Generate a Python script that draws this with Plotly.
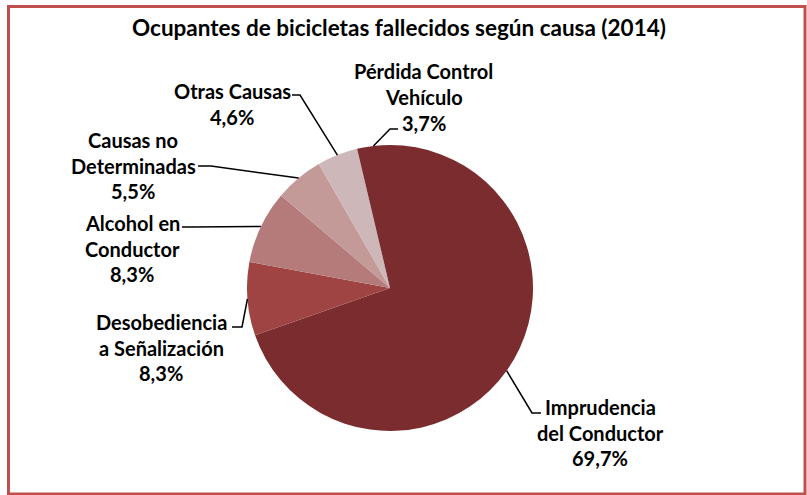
import math
import plotly.graph_objects as go

# ---- data ----
categories = ["Imprudencia<br>del Conductor", "Desobediencia<br>a Señalización",
              "Alcohol en<br>Conductor", "Causas no<br>Determinadas",
              "Otras Causas", "Pérdida Control<br>Vehículo"]
label_lines = [["Imprudencia", "del Conductor"],
               ["Desobediencia", "a Señalización"],
               ["Alcohol en", "Conductor"],
               ["Causas no", "Determinadas"],
               ["Otras Causas"],
               ["Pérdida Control", "Vehículo"]]
values = [69.7, 8.3, 8.3, 5.5, 4.6, 3.7]
pct_labels = ["69,7%", "8,3%", "8,3%", "5,5%", "4,6%", "3,7%"]
title = "Ocupantes de bicicletas fallecidos según causa (2014)"

colors = ["#7B2C2F", "#9F4442", "#B47B7A", "#C39A98", "#CDB7B8", "#7B2C2F"]

W, H = 807, 495
CX, CY, R = 390.0, 288.0, 143.0

def px(x):
    return x / W

def py(y):
    return 1 - y / H

fig = go.Figure()
fig.add_trace(go.Pie(
    labels=categories, values=values, sort=False, direction="clockwise",
    rotation=0, marker=dict(colors=colors, line=dict(width=0)),
    textinfo="none", hoverinfo="label+percent", showlegend=False,
    domain=dict(x=[px(CX - R), px(CX + R)], y=[py(CY + R), py(CY - R)]),
))

layout_info = [
    dict(cx=600, y0=407, elbow=(532, 413), end=(541, 413)),
    dict(cx=161, y0=322, elbow=(242, 327), end=(232, 327)),
    dict(cx=132, y0=223, elbow=(192, 227), end=(182, 227)),
    dict(cx=133, y0=140, elbow=(211, 166), end=(198, 166)),
    dict(cx=232, y0=91.5, elbow=(300, 95), end=(292, 95)),
    dict(cx=424, y0=71.5, elbow=(390, 129), end=(398, 129)),
]
SP = 25.7
FONT = "Lato"
FS = 20

total = sum(values)
cum = 0.0
annotations = []
shapes = []
for i, v in enumerate(values):
    mid = (cum + v / 2) / total * 360.0
    cum += v
    ang = math.radians(90 - mid)
    ex, ey = CX + R * math.cos(ang), CY - R * math.sin(ang)
    info = layout_info[i]
    (bx, by), (tx, ty) = info["elbow"], info["end"]
    shapes.append(dict(type="path", xref="paper", yref="paper",
                       path=f"M {px(ex)},{py(ey)} L {px(bx)},{py(by)} L {px(tx)},{py(ty)}",
                       line=dict(color="black", width=1.5)))
    lines = label_lines[i] + [pct_labels[i]]
    for k, t in enumerate(lines):
        annotations.append(dict(x=px(info["cx"]), y=py(info["y0"] + k * SP),
                                xref="paper", yref="paper", text=f"<b>{t}</b>",
                                showarrow=False, xanchor="center", yanchor="middle",
                                font=dict(family=FONT, size=FS, color="black")))

annotations.append(dict(x=px(399), y=py(27), xref="paper", yref="paper",
                        text=f"<b>{title}</b>", showarrow=False,
                        xanchor="center", yanchor="middle",
                        font=dict(family=FONT, size=22.5, color="black")))

shapes.append(dict(type="rect", xref="paper", yref="paper",
                   x0=px(8.5), y0=py(494), x1=px(805), y1=py(6.5),
                   line=dict(color="#C0504D", width=3)))

fig.update_layout(width=W, height=H, margin=dict(l=0, r=0, t=0, b=0),
                  paper_bgcolor="white", plot_bgcolor="white",
                  annotations=annotations, shapes=shapes)
fig.write_html("out.html", config={"displayModeBar": False},
               post_script="document.body.style.margin='0';document.body.style.overflow='hidden';")
